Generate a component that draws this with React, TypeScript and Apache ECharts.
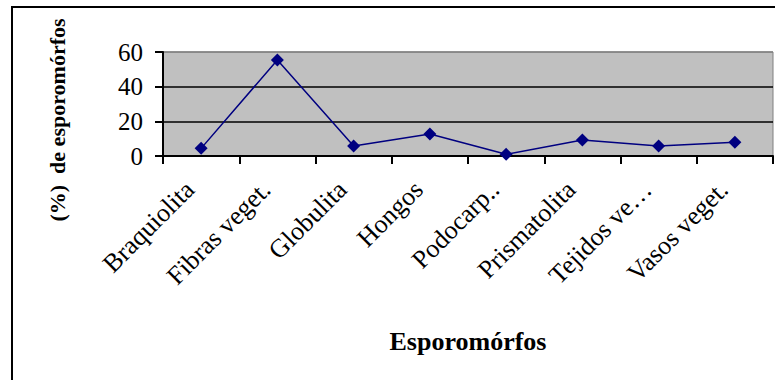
import React, { useEffect, useRef } from "react";
import * as echarts from "echarts";

const categories = [
  "Braquiolita",
  "Fibras veget.",
  "Globulita",
  "Hongos",
  "Podocarp..",
  "Prismatolita",
  "Tejidos ve…",
  "Vasos veget.",
];
const values = [4.4, 55.4, 5.8, 12.7, 1.0, 9.2, 5.8, 7.9];
const yTicks = { min: 0, max: 60, interval: 20 };
const xTitle = "Esporomórfos";
const yTitle = "(%)  de esporomórfos";

const FONT = "Liberation Serif";

export default function App() {
  const ref = useRef<HTMLDivElement>(null);
  useEffect(() => {
    if (!ref.current) return;
    const chart = echarts.init(ref.current, null, { renderer: "svg" });
    chart.setOption({
      animation: false,
      backgroundColor: "#ffffff",
      textStyle: { fontFamily: FONT },
      grid: {
        left: 163,
        right: 2,
        top: 52,
        bottom: 224,
        show: true,
        backgroundColor: "#c0c0c0",
        borderColor: "#808080",
        borderWidth: 1,
      },
      graphic: [
        {
          type: "rect",
          shape: { x: 12, y: 7, width: 820, height: 420 },
          style: { fill: "none", stroke: "#000", lineWidth: 2 },
          silent: true,
        },
        {
          type: "text",
          x: 57,
          y: 120,
          rotation: Math.PI / 2,
          style: {
            text: yTitle,
            fontFamily: FONT,
            fontWeight: "bold",
            fontSize: 22,
            fill: "#000",
            align: "center",
            verticalAlign: "middle",
          },
        },
      ],
      xAxis: {
        type: "category",
        data: categories,
        boundaryGap: true,
        name: xTitle,
        nameLocation: "middle",
        nameGap: 172,
        nameTextStyle: {
          fontFamily: FONT,
          fontWeight: "bold",
          fontSize: 26,
          color: "#000",
        },
        axisLine: { show: true, lineStyle: { color: "#000", width: 2 } },
        axisTick: { show: true, length: 8, lineStyle: { color: "#000", width: 2 } },
        axisLabel: {
          rotate: 45,
          interval: 0,
          margin: 18,
          padding: [0, 16, 0, 0],
          fontFamily: FONT,
          fontSize: 26,
          color: "#000",
        },
        splitLine: { show: false },
      },
      yAxis: {
        type: "value",
        min: yTicks.min,
        max: yTicks.max,
        interval: yTicks.interval,
        axisLine: { show: true, lineStyle: { color: "#000", width: 2 } },
        axisTick: { show: true, length: 8, lineStyle: { color: "#000", width: 2 } },
        axisLabel: {
          margin: 20,
          fontFamily: FONT,
          fontSize: 25,
          color: "#000",
        },
        splitLine: {
          show: true,
          lineStyle: { color: ["#000", "#000", "#000", "#808080"], width: 1.5 },
        },
      },
      series: [
        {
          type: "line",
          data: values,
          symbol: "diamond",
          symbolSize: 13,
          lineStyle: { color: "#000080", width: 1.5 },
          itemStyle: { color: "#000080" },
        },
      ],
    });
    return () => chart.dispose();
  }, []);
  return (
    <div
      ref={ref}
      style={{ position: "fixed", left: 0, top: 0, width: 775, height: 380 }}
    />
  );
}
